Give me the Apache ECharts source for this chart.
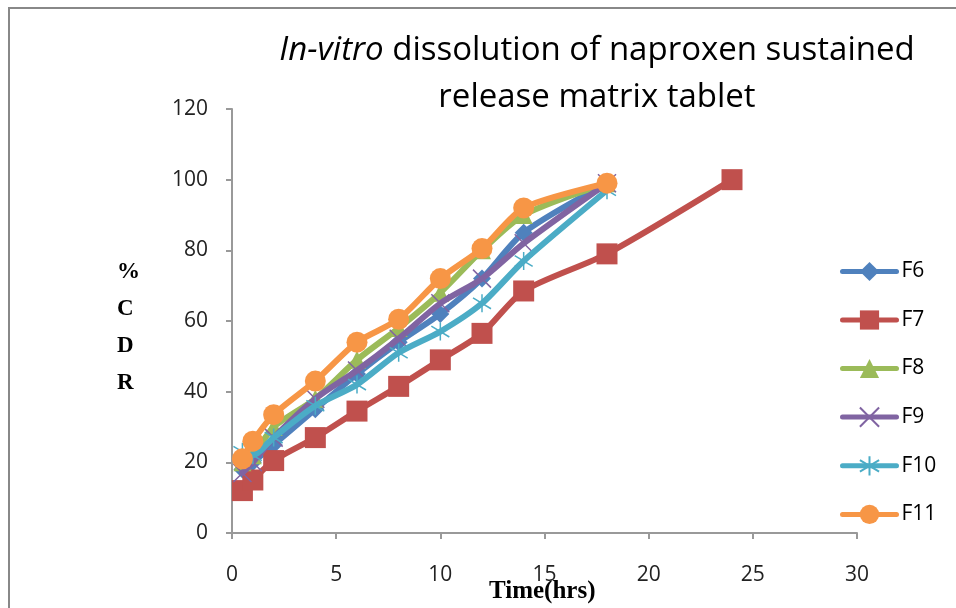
<!DOCTYPE html>
<html>
<head>
<meta charset="utf-8">
<script src="https://cdn.jsdelivr.net/npm/echarts@6/dist/echarts.min.js"></script>
<style>
  html, body { margin: 0; padding: 0; background: #fff; }
  #container { width: 956px; height: 608px; }
</style>
</head>
<body>
<div id="container"></div>
<script>
// time points (hrs)
const time = [0.5, 1, 2, 4, 6, 8, 10, 12, 14, 18];
const timeF7 = [0.5, 1, 2, 4, 6, 8, 10, 12, 14, 18, 24];

// % CDR per formulation
const f6 = [18, 20, 25, 35, 45, 54, 62, 72, 85, 99];
const f7 = [12, 15, 20.5, 27, 34.5, 41.5, 49, 56.5, 68.5, 79, 100];
const f8 = [20, 22, 30, 38, 49, 58, 68, 80, 90, 99];
const f9 = [17, 20, 27, 38, 46, 55, 65, 72, 82, 99];
const f10 = [23, 22, 27, 36, 42, 51, 57, 65, 77, 97];
const f11 = [21, 26, 33.5, 43, 54, 60.5, 72, 80.5, 92, 99];

const names = ['F6', 'F7', 'F8', 'F9', 'F10', 'F11'];
const colors = ['#4F81BD', '#C0504D', '#9BBB59', '#8064A2', '#4BACC6', '#F79646'];

function pairs(xs, ys) {
  return ys.map((v, i) => [xs[i], v]);
}

const crossPath = 'path://M0,0 L10,10 M10,0 L0,10';
const starPath = 'path://M5,0 L5,10 M0,2 L10,8 M0,8 L10,2';

const symbols = [
  { symbol: 'diamond', size: 18 },
  { symbol: 'rect', size: 21 },
  { symbol: 'triangle', size: 18 },
  { symbol: crossPath, size: 18 },
  { symbol: starPath, size: 18 },
  { symbol: 'circle', size: 21 }
];

const seriesData = [pairs(time, f6), pairs(timeF7, f7), pairs(time, f8), pairs(time, f9), pairs(time, f10), pairs(time, f11)];

const series = seriesData.map((d, i) => {
  const stroked = i === 3 || i === 4;
  return {
    name: names[i],
    type: 'line',
    data: d,
    smooth: 0.25,
    symbol: symbols[i].symbol,
    symbolSize: symbols[i].size,
    showAllSymbol: true,
    lineStyle: { width: 6, color: colors[i], cap: 'round' },
    itemStyle: stroked
      ? { color: 'rgba(0,0,0,0)', borderColor: colors[i], borderWidth: 1.5 }
      : { color: colors[i] },
    emphasis: { disabled: true },
    z: 2 + i
  };
});

const dom = document.getElementById('container');
const myChart = echarts.init(dom, null, { renderer: 'canvas' });

const option = {
  animation: false,
  title: {
    text: '{i|In-vitro} dissolution of naproxen sustained\nrelease matrix tablet',
    left: 592,
    top: 22,
    textAlign: 'center',
    textStyle: {
      fontFamily: 'Open Sans',
      fontSize: 33,
      fontWeight: 'normal',
      color: '#000',
      lineHeight: 47,
      rich: {
        i: { fontStyle: 'italic', fontFamily: 'Open Sans', fontSize: 33, color: '#000', lineHeight: 47 }
      }
    }
  },
  legend: {
    orient: 'vertical',
    left: 835,
    top: 256,
    itemGap: 27.5,
    itemWidth: 54,
    itemHeight: 24,
    data: names,
    lineStyle: { width: 5 },
    textStyle: { fontFamily: 'Open Sans', fontSize: 21, color: '#000', padding: [0, 0, 0, 0] }
  },
  grid: {
    left: 232,
    right: 99,
    top: 109,
    bottom: 75
  },
  xAxis: {
    type: 'value',
    min: 0,
    max: 30,
    interval: 5,
    splitLine: { show: false },
    axisLine: { show: true, lineStyle: { color: '#999', width: 2 } },
    axisTick: { show: true, length: 6, lineStyle: { color: '#999', width: 2 } },
    axisLabel: { fontFamily: 'Open Sans', fontSize: 21, color: '#222', margin: 32 }
  },
  yAxis: {
    type: 'value',
    min: 0,
    max: 120,
    interval: 20,
    splitLine: { show: false },
    axisLine: { show: true, lineStyle: { color: '#999', width: 2 } },
    axisTick: { show: true, length: 6, lineStyle: { color: '#999', width: 2 } },
    axisLabel: { fontFamily: 'Open Sans', fontSize: 21, color: '#222', margin: 24 }
  },
  graphic: [
    {
      type: 'rect',
      shape: { x: 9, y: 8, width: 960, height: 620 },
      style: { fill: 'none', stroke: '#888', lineWidth: 2 },
      silent: true
    },
    {
      type: 'text',
      left: 117,
      top: 254,
      style: {
        text: '%\nC\nD\nR',
        font: 'bold 23px "Liberation Serif"',
        fill: '#000',
        lineHeight: 37,
        align: 'center'
      }
    },
    {
      type: 'text',
      left: 489,
      top: 579,
      style: {
        text: 'Time(hrs)',
        font: 'bold 25px "Liberation Serif"',
        fill: '#000'
      }
    }
  ],
  series: series
};

if (option && typeof option === 'object') {
  myChart.setOption(option);
}
</script>
</body>
</html>
